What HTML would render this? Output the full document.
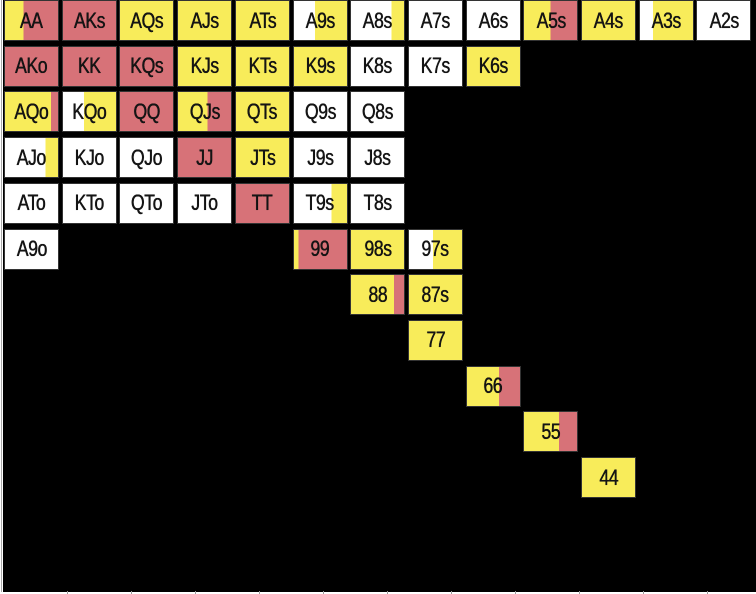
<!DOCTYPE html>
<html><head><meta charset="utf-8">
<style>
html,body{margin:0;padding:0;background:#fff;}
#chart{position:relative;width:756px;height:594px;overflow:hidden;background:#fff;}
#bg{position:absolute;left:3px;top:0;width:753px;height:592px;background:#000;}
#leftline{position:absolute;left:1px;top:0;width:1px;height:592px;background:#aaa;}
.cell{position:absolute;width:55px;height:41px;box-sizing:border-box;display:flex;align-items:center;justify-content:center;
font-family:"Liberation Sans",sans-serif;font-size:22px;color:#151515;box-shadow:inset 0 0 0 1px #333;}
.cell span{display:inline-block;transform:scaleX(0.8);letter-spacing:-0.5px;text-shadow:0 0 0.6px #000,0.3px 0 0 #000;}
.tick{position:absolute;top:591px;width:1px;height:3px;background:#999;}
</style></head>
<body>
<div id="chart">
<div id="bg"></div>
<div id="leftline"></div>
</div>
<script>
// hand labels, grid rows/cols, left color, right color, split fraction of left color
const hands = ["AA","AKs","AQs","AJs","ATs","A9s","A8s","A7s","A6s","A5s","A4s","A3s","A2s",
"AKo","KK","KQs","KJs","KTs","K9s","K8s","K7s","K6s",
"AQo","KQo","QQ","QJs","QTs","Q9s","Q8s",
"AJo","KJo","QJo","JJ","JTs","J9s","J8s",
"ATo","KTo","QTo","JTo","TT","T9s","T8s",
"A9o","99","98s","97s",
"88","87s","77","66","55","44"];
const rows = [0,0,0,0,0,0,0,0,0,0,0,0,0, 1,1,1,1,1,1,1,1,1, 2,2,2,2,2,2,2, 3,3,3,3,3,3,3, 4,4,4,4,4,4,4, 5,5,5,5, 6,6,7,8,9,10];
const cols = [0,1,2,3,4,5,6,7,8,9,10,11,12, 0,1,2,3,4,5,6,7,8, 0,1,2,3,4,5,6, 0,1,2,3,4,5,6, 0,1,2,3,4,5,6, 0,5,6,7, 6,7,7,8,9,10];
const leftColor = ["Y","R","Y","Y","Y","W","W","W","W","Y","Y","W","W",
"R","R","R","Y","Y","Y","W","W","Y",
"Y","W","R","Y","Y","W","W",
"W","W","W","R","Y","W","W",
"W","W","W","W","R","W","W",
"W","Y","Y","W",
"Y","Y","Y","Y","Y","Y"];
const rightColor = ["R","R","Y","Y","Y","Y","Y","W","W","R","Y","Y","W",
"R","R","R","Y","Y","Y","W","W","Y",
"R","Y","R","R","Y","W","W",
"Y","W","W","R","Y","W","W",
"W","W","W","W","R","Y","W",
"W","R","Y","Y",
"R","Y","Y","R","R","Y"];
const split = [0.35,1,1,1,1,0.4,0.75,1,1,0.5,1,0.25,1,
1,1,1,1,1,1,1,1,1,
0.85,0.4,1,0.55,1,1,1,
0.75,1,1,1,1,1,1,
1,1,1,1,1,0.7,1,
1,0.1,1,0.45,
0.8,1,1,0.6,0.65,1];
const palette = {Y:"#f8ec5a",R:"#d77278",W:"#ffffff"};
const colX = c => 4 + c*57.7;
const rowY = r => r*45.7;
const chart = document.getElementById('chart');
hands.forEach((h,i)=>{
  const d=document.createElement('div');
  d.className='cell';
  
  
  d.style.left=colX(cols[i])+'px';
  d.style.top=rowY(rows[i])+'px';
  const a=palette[leftColor[i]], b=palette[rightColor[i]], p=(split[i]*100).toFixed(1)+'%';
  d.style.background='linear-gradient(to right,'+a+' 0,'+a+' '+p+','+b+' '+p+','+b+' 100%)';
  const s=document.createElement('span');
  s.textContent=h;
  d.appendChild(s);
  chart.appendChild(d);
});
for(let k=1;k<12;k++){
  const t=document.createElement('div');
  t.className='tick';
  
  
  t.style.left=(3+k*64)+'px';
  chart.appendChild(t);
}
</script>
</body></html>
